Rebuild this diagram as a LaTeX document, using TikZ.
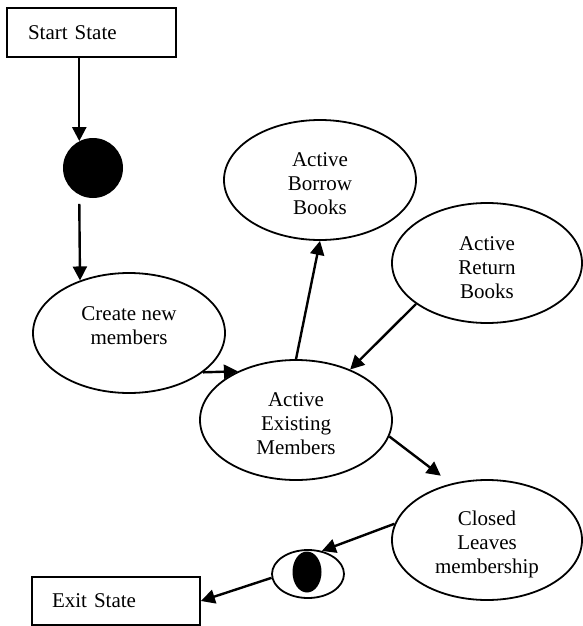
\documentclass[tikz,border=0pt]{standalone}
\usepackage{fontspec}
\setmainfont{Liberation Serif}
\usetikzlibrary{shapes.geometric,arrows.meta}
\begin{document}
\begin{tikzpicture}[x=1pt,y=-1pt,
  every node/.style={font=\fontsize{21}{24}\selectfont},
  statebox/.style={draw,line width=1.8pt,rectangle,align=left,inner ysep=0pt,
    minimum height=48pt,inner xsep=20pt},
  activity/.style={draw,line width=1.8pt,ellipse,minimum width=192pt,
    minimum height=120pt,inner sep=0pt},
  caption/.style={align=center,inner sep=0pt},
  flow/.style={line width=2.4pt,-{Triangle[length=14pt,width=14pt]}},
]
\useasboundingbox (0,0) rectangle (582,626);

% start and end boxes
\node[statebox,text width=127pt,inner xsep=21pt,minimum height=49pt] (start) at (91.5,32.5) {Start State};
\node[statebox,text width=128pt] (exit) at (116,601) {Exit State};

% initial state
\node[circle,fill,minimum size=60pt,inner sep=0pt] (dot) at (93,168) {};

% activity states
\node[activity,label={[caption,yshift=7pt]center:Create new\\members}] (create) at (129,333) {};
\node[activity,label={[caption,yshift=-4pt]center:Active\\Borrow\\Books}] (borrow) at (320,180) {};
\node[activity,minimum width=190pt,label={[caption,yshift=-4.5pt]center:Active\\Return\\Books}] (giveback) at (487,263) {};
\node[activity,label={[caption,yshift=-3.5pt]center:Active\\Existing\\Members}] (existing) at (296,420) {};
\node[activity,minimum width=190pt,label={[caption,yshift=-4.5pt]center:Closed\\Leaves\\membership}] (closed) at (487,540) {};

% final state
\node[draw,ellipse,line width=1.8pt,minimum width=72pt,minimum height=48pt,inner sep=0pt] (final) at (308,574) {};
\node[fill,ellipse,minimum width=29pt,minimum height=41pt,inner sep=0pt] (finaldot) at (307,572) {};

% transitions
\draw[flow] (dot.117.5 |- start.south) -- (dot.117.5);
\draw[flow] ([yshift=-9pt]dot.243) -- (create.133.3);
\draw[flow] (create.-28.1) -- (existing.140);
\draw[flow] (existing.north) -- (borrow.south);
\draw[flow] (giveback.210.3) -- (existing.43.9);
\draw[flow] (existing.-10.4) -- ([xshift=-6pt,yshift=9pt]closed.126.7);
\draw[flow] (closed.170.9) -- (final.59.7);
\draw[flow] (final.186) -- (exit.east);
\end{tikzpicture}
\end{document}
